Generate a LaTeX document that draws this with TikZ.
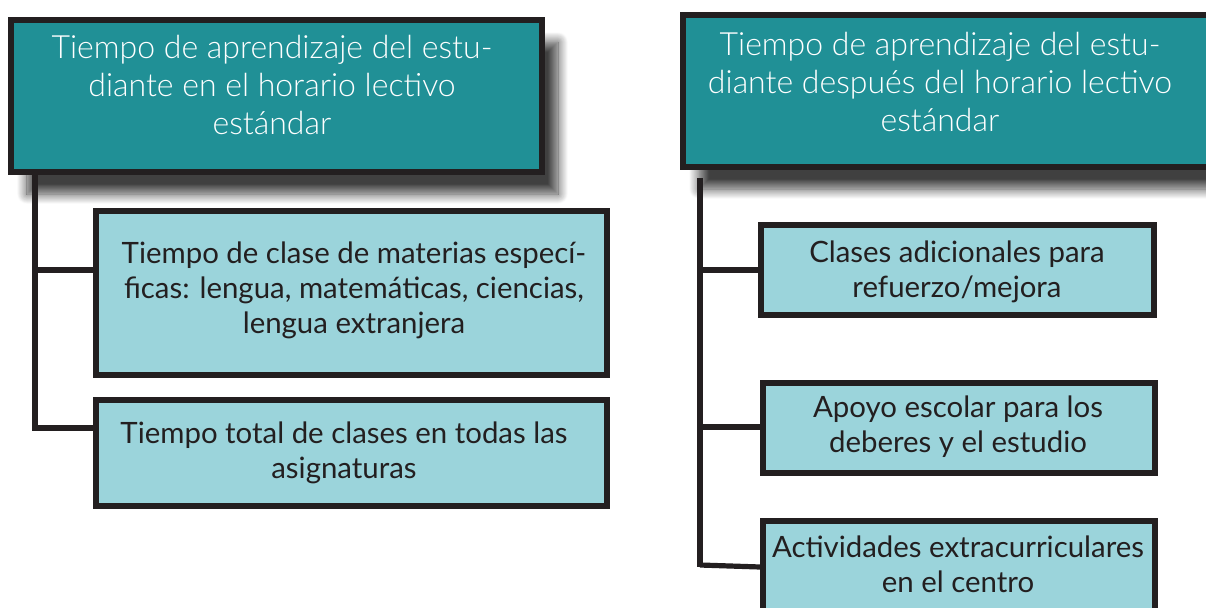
\documentclass[tikz,border=0pt]{standalone}
\usepackage{fontspec}
\setmainfont{Lato}
\newfontfamily\lightfont{Lato Light}
\usetikzlibrary{shadows.blur}
\definecolor{teal1}{RGB}{32,144,150}
\definecolor{lightb}{RGB}{155,212,219}
\definecolor{ink}{RGB}{35,31,32}
\begin{document}
\begin{tikzpicture}[x=0.5pt,y=-0.5pt,
  hbox/.style={draw=ink, line width=3pt, fill=teal1, inner sep=0pt,
    blur shadow={shadow xshift=8pt, shadow yshift=-11pt, shadow blur radius=5pt, shadow opacity=75, shadow blur steps=14}},
  sbox/.style={draw=ink, line width=2.75pt, fill=lightb, inner sep=0pt},
  htext/.style={text=white, font=\lightfont\fontsize{16pt}{19pt}\selectfont, align=center, inner sep=0pt},
  stext/.style={text=ink, font=\fontsize{14.7pt}{17.5pt}\selectfont, align=center, inner sep=0pt},
  link/.style={draw=ink, line width=2.6pt}]
\useasboundingbox (0,0) rectangle (1206,607);
% left column
\node[hbox, minimum width=265.5pt, minimum height=76pt] (hL) at (276.5,96) {};
\node[htext] (hLt) at (272,85) {Tiempo de aprendizaje del estu-\\diante en el horario lectivo\\estándar};
\node[sbox, minimum width=255.5pt, minimum height=82pt] (b1) at (351.5,293) {};
\node[stext] (b1t) at (354,290) {Tiempo de clase de materias especí-\\ficas: lengua, matemáticas, ciencias,\\lengua extranjera};
\node[sbox, minimum width=255.5pt, minimum height=53pt] (b2) at (351.5,453) {};
\node[stext] (b2t) at (344,453) {Tiempo total de clases en todas las\\asignaturas};
\coordinate (tL) at (35,175);
\coordinate (eL1) at (35,270);
\coordinate (eL2) at (96,428);
\draw[link] (tL) |- (eL2);
\draw[link] (eL1) -- (eL1 -| b1.west);
% right column
\node[hbox, minimum width=266pt, minimum height=76pt] (hR) at (949,91) {};
\node[htext] (hRt) at (940,82) {Tiempo de aprendizaje del estu-\\diante después del horario lectivo\\estándar};
\node[sbox, minimum width=196.5pt, minimum height=45pt] (rA) at (957.5,270) {};
\node[stext] (rAt) at (957,272) {Clases adicionales para\\refuerzo/mejora};
\node[sbox, minimum width=196pt, minimum height=45pt] (rB) at (959,428) {};
\node[stext] (rBt) at (958,427) {Apoyo escolar para los\\deberes y el estudio};
\node[sbox, minimum width=196pt, minimum height=59pt] (rC) at (959,580) {};
\node[stext] (rCt) at (958,564) {Actividades extracurriculares\\en el centro};
\coordinate (tR) at (700,178);
\coordinate (eR1) at (700,270);
\coordinate (eR2) at (700,427);
\coordinate (eR3) at (700,567);
\draw[link] (tR) -- (eR3);
\draw[link] (eR1) -- (eR1 -| rA.west);
\draw[link] (eR2) -- (eR2 -| rB.west);
\draw[link] (eR3) ++(0,-2) -- (eR3 -| rC.west);
\end{tikzpicture}
\end{document}
